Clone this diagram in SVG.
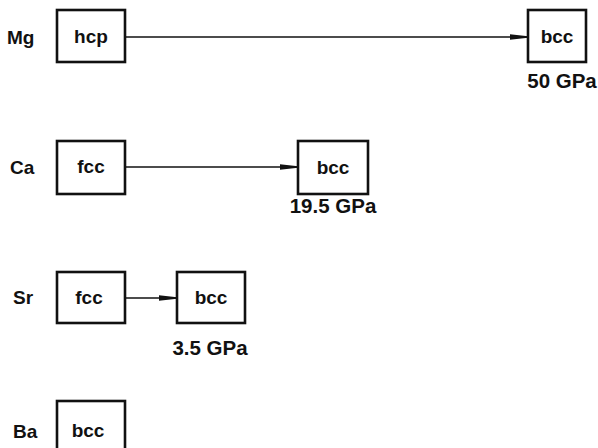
<svg xmlns="http://www.w3.org/2000/svg" width="598" height="448" viewBox="0 0 598 448">
<style>
.box{fill:#fff;stroke:#111;stroke-width:2.6}
.t{font-family:"Liberation Sans",Arial,sans-serif;font-weight:bold;font-size:19px;fill:#111}
.c{text-anchor:middle}
.p{font-size:20.5px;text-anchor:middle}
.ln{stroke:#111;stroke-width:1.4;fill:none}
</style>
<defs>
<marker id="ah" markerWidth="18" markerHeight="8" refX="18" refY="4" orient="auto" markerUnits="userSpaceOnUse">
<path d="M0,1.2 L18,3.2 L18,4.8 L0,6.8 Z" fill="#111"/>
</marker>
</defs>
<rect width="598" height="448" fill="#fff"/>
<g id="labels">
<text class="t" x="7" y="44">Mg</text>
<text class="t" x="10" y="174">Ca</text>
<text class="t" x="13" y="304">Sr</text>
<text class="t" x="13" y="438">Ba</text>
</g>
<g id="connectors">
<line class="ln" x1="125" y1="37" x2="528" y2="37" marker-end="url(#ah)"/>
<line class="ln" x1="125" y1="167" x2="298" y2="167" marker-end="url(#ah)"/>
<line class="ln" x1="125" y1="298" x2="177" y2="298" marker-end="url(#ah)"/>
</g>
<g id="mg-hcp"><rect class="box" x="57" y="10" width="68" height="52"/><text class="t c" x="91" y="43">hcp</text></g>
<g id="mg-bcc"><rect class="box" x="528" y="10" width="58" height="52"/><text class="t c" x="557" y="43">bcc</text><text class="t p" x="562" y="88">50 GPa</text></g>
<g id="ca-fcc"><rect class="box" x="57" y="141" width="68" height="53"/><text class="t c" x="91" y="173">fcc</text></g>
<g id="ca-bcc"><rect class="box" x="298" y="141" width="70" height="53"/><text class="t c" x="333" y="174">bcc</text><text class="t p" x="333" y="213">19.5 GPa</text></g>
<g id="sr-fcc"><rect class="box" x="57" y="272" width="68" height="51"/><text class="t c" x="89" y="304">fcc</text></g>
<g id="sr-bcc"><rect class="box" x="177" y="272" width="68" height="51"/><text class="t c" x="211" y="304">bcc</text><text class="t p" x="210" y="355">3.5 GPa</text></g>
<g id="ba-bcc"><rect class="box" x="57" y="401" width="68" height="53"/><text class="t c" x="88" y="437">bcc</text></g>
</svg>
